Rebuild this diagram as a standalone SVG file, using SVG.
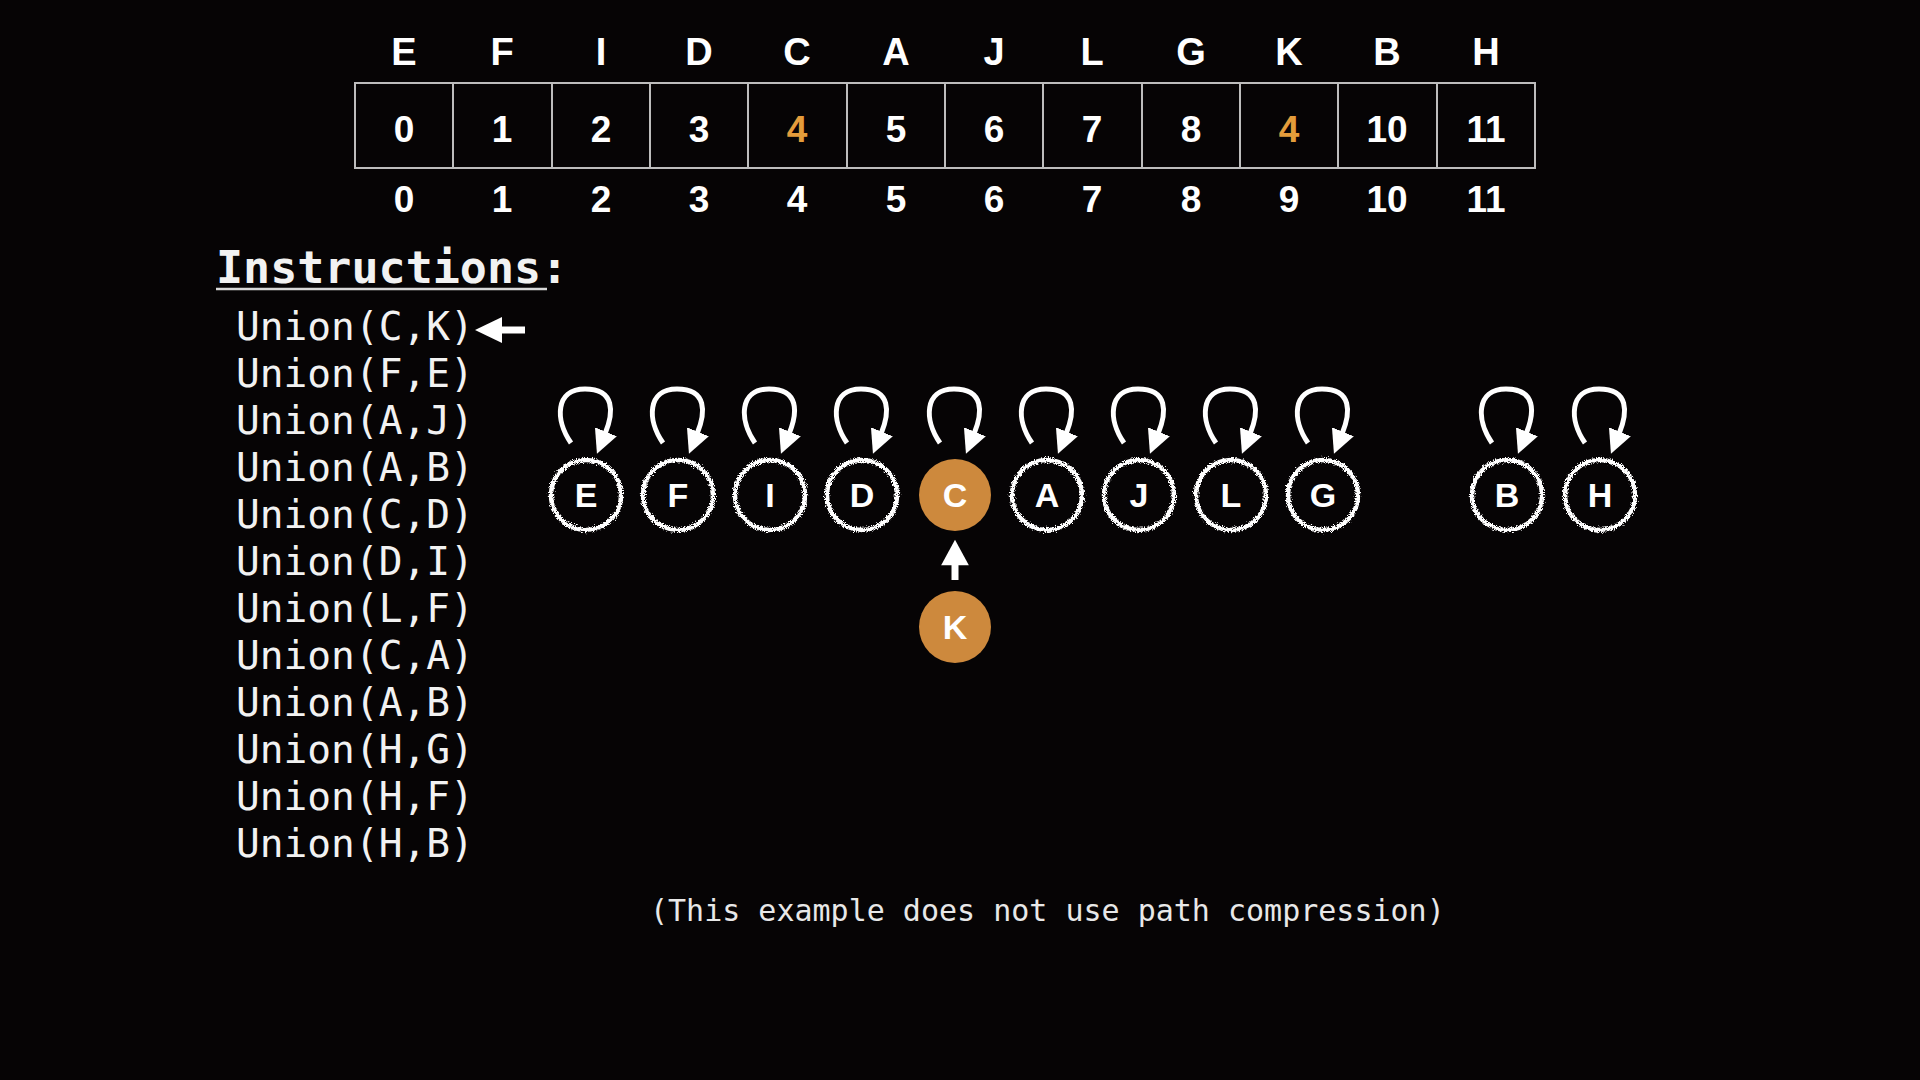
<svg xmlns="http://www.w3.org/2000/svg" width="1920" height="1080" viewBox="0 0 1920 1080">
<defs>
<style>
.hdr{font-family:"Liberation Sans",Arial,sans-serif;font-weight:bold;font-size:38px;fill:#fff;text-anchor:middle}
.val{font-family:"Liberation Sans",Arial,sans-serif;font-weight:bold;font-size:37px;fill:#fff;text-anchor:middle}
.hi{fill:#E49C3B}
.cell{fill:none;stroke:#bdbdbd;stroke-width:2}
.mono{font-family:"DejaVu Sans Mono","Liberation Mono",monospace;fill:#f2f2f2}
.title{font-size:45px;font-weight:bold}
.ins{font-size:39.5px}
.note{font-size:30px;fill:#e8e8e8}
.ring{fill:none;stroke:#fff;stroke-width:4.5;filter:url(#fuzz)}
.org{fill:#CD893D}
.lbl{font-family:"Liberation Sans",Arial,sans-serif;font-weight:bold;font-size:34px;fill:#fff;text-anchor:middle}
.loop{fill:none;stroke:#fff;stroke-width:5;marker-end:url(#ah)}
</style>
<filter id="fuzz" x="-30%" y="-30%" width="160%" height="160%">
<feTurbulence type="fractalNoise" baseFrequency="1.1" numOctaves="2" seed="3" result="n"/>
<feDisplacementMap in="SourceGraphic" in2="n" scale="6" xChannelSelector="R" yChannelSelector="G"/>
</filter>
<marker id="ah" markerUnits="userSpaceOnUse" markerWidth="26" markerHeight="26" viewBox="0 -11 22 22" refX="2" refY="0" orient="auto">
<path d="M0,-10 L20,0 L0,10 z" fill="#fff"/>
</marker>
<marker id="ah2" markerUnits="userSpaceOnUse" markerWidth="30" markerHeight="30" viewBox="0 -13 24 26" refX="1" refY="0" orient="auto">
<path d="M0,-12 L22,0 L0,12 z" fill="#fff"/>
</marker>
</defs>
<rect width="1920" height="1080" fill="#060405"/>

<g id="array">
<g id="headers">
<text class="hdr" x="404" y="65">E</text>
<text class="hdr" x="502" y="65">F</text>
<text class="hdr" x="601" y="65">I</text>
<text class="hdr" x="699" y="65">D</text>
<text class="hdr" x="797" y="65">C</text>
<text class="hdr" x="896" y="65">A</text>
<text class="hdr" x="994" y="65">J</text>
<text class="hdr" x="1092" y="65">L</text>
<text class="hdr" x="1191" y="65">G</text>
<text class="hdr" x="1289" y="65">K</text>
<text class="hdr" x="1387" y="65">B</text>
<text class="hdr" x="1486" y="65">H</text>
</g>
<g id="cells">
<rect class="cell" x="355" y="83" width="1180" height="85"/>
<line class="cell" x1="453" y1="83" x2="453" y2="168"/>
<line class="cell" x1="552" y1="83" x2="552" y2="168"/>
<line class="cell" x1="650" y1="83" x2="650" y2="168"/>
<line class="cell" x1="748" y1="83" x2="748" y2="168"/>
<line class="cell" x1="847" y1="83" x2="847" y2="168"/>
<line class="cell" x1="945" y1="83" x2="945" y2="168"/>
<line class="cell" x1="1043" y1="83" x2="1043" y2="168"/>
<line class="cell" x1="1142" y1="83" x2="1142" y2="168"/>
<line class="cell" x1="1240" y1="83" x2="1240" y2="168"/>
<line class="cell" x1="1338" y1="83" x2="1338" y2="168"/>
<line class="cell" x1="1437" y1="83" x2="1437" y2="168"/>
</g>
<g id="values">
<text class="val" x="404" y="142">0</text>
<text class="val" x="502" y="142">1</text>
<text class="val" x="601" y="142">2</text>
<text class="val" x="699" y="142">3</text>
<text class="val hi" x="797" y="142">4</text>
<text class="val" x="896" y="142">5</text>
<text class="val" x="994" y="142">6</text>
<text class="val" x="1092" y="142">7</text>
<text class="val" x="1191" y="142">8</text>
<text class="val hi" x="1289" y="142">4</text>
<text class="val" x="1387" y="142">10</text>
<text class="val" x="1486" y="142">11</text>
</g>
<g id="indices">
<text class="val" x="404" y="212">0</text>
<text class="val" x="502" y="212">1</text>
<text class="val" x="601" y="212">2</text>
<text class="val" x="699" y="212">3</text>
<text class="val" x="797" y="212">4</text>
<text class="val" x="896" y="212">5</text>
<text class="val" x="994" y="212">6</text>
<text class="val" x="1092" y="212">7</text>
<text class="val" x="1191" y="212">8</text>
<text class="val" x="1289" y="212">9</text>
<text class="val" x="1387" y="212">10</text>
<text class="val" x="1486" y="212">11</text>
</g>
</g>

<g id="instructions">
<text class="mono title" x="216" y="283">Instructions:</text>
<line x1="216" y1="289" x2="547" y2="289" stroke="#d8d8d8" stroke-width="2.5"/>
<text class="mono ins" x="236" y="340">Union(C,K)</text>
<text class="mono ins" x="236" y="387">Union(F,E)</text>
<text class="mono ins" x="236" y="434">Union(A,J)</text>
<text class="mono ins" x="236" y="481">Union(A,B)</text>
<text class="mono ins" x="236" y="528">Union(C,D)</text>
<text class="mono ins" x="236" y="575">Union(D,I)</text>
<text class="mono ins" x="236" y="622">Union(L,F)</text>
<text class="mono ins" x="236" y="669">Union(C,A)</text>
<text class="mono ins" x="236" y="716">Union(A,B)</text>
<text class="mono ins" x="236" y="763">Union(H,G)</text>
<text class="mono ins" x="236" y="810">Union(H,F)</text>
<text class="mono ins" x="236" y="857">Union(H,B)</text>
<g id="pointer">
<line x1="525" y1="330" x2="500" y2="330" stroke="#fff" stroke-width="7"/>
<polygon points="475,330 502,317 502,343" fill="#fff"/>
</g>
</g>

<g id="connectors">
<path class="loop" d="M571,443 C555,420 555,389 585,389 C615,389 614,412 605,434"/>
<path class="loop" d="M663,443 C647,420 647,389 677,389 C707,389 706,412 697,434"/>
<path class="loop" d="M755,443 C739,420 739,389 769,389 C799,389 798,412 789,434"/>
<path class="loop" d="M847,443 C831,420 831,389 861,389 C891,389 890,412 881,434"/>
<path class="loop" d="M940,443 C924,420 924,389 954,389 C984,389 983,412 974,434"/>
<path class="loop" d="M1032,443 C1016,420 1016,389 1046,389 C1076,389 1075,412 1066,434"/>
<path class="loop" d="M1124,443 C1108,420 1108,389 1138,389 C1168,389 1167,412 1158,434"/>
<path class="loop" d="M1216,443 C1200,420 1200,389 1230,389 C1260,389 1259,412 1250,434"/>
<path class="loop" d="M1308,443 C1292,420 1292,389 1322,389 C1352,389 1351,412 1342,434"/>
<path class="loop" d="M1492,443 C1476,420 1476,389 1506,389 C1536,389 1535,412 1526,434"/>
<path class="loop" d="M1585,443 C1569,420 1569,389 1599,389 C1629,389 1628,412 1619,434"/>
<line id="edge-K-C" x1="955" y1="580" x2="955" y2="564" stroke="#fff" stroke-width="7" marker-end="url(#ah2)"/>
</g>

<g id="node-E"><circle class="ring" cx="586" cy="495" r="35"/><text class="lbl" x="586" y="507">E</text></g>
<g id="node-F"><circle class="ring" cx="678" cy="495" r="35"/><text class="lbl" x="678" y="507">F</text></g>
<g id="node-I"><circle class="ring" cx="770" cy="495" r="35"/><text class="lbl" x="770" y="507">I</text></g>
<g id="node-D"><circle class="ring" cx="862" cy="495" r="35"/><text class="lbl" x="862" y="507">D</text></g>
<g id="node-C"><circle class="org" cx="955" cy="495" r="36"/><text class="lbl" x="955" y="507">C</text></g>
<g id="node-A"><circle class="ring" cx="1047" cy="495" r="35"/><text class="lbl" x="1047" y="507">A</text></g>
<g id="node-J"><circle class="ring" cx="1139" cy="495" r="35"/><text class="lbl" x="1139" y="507">J</text></g>
<g id="node-L"><circle class="ring" cx="1231" cy="495" r="35"/><text class="lbl" x="1231" y="507">L</text></g>
<g id="node-G"><circle class="ring" cx="1323" cy="495" r="35"/><text class="lbl" x="1323" y="507">G</text></g>
<g id="node-B"><circle class="ring" cx="1507" cy="495" r="35"/><text class="lbl" x="1507" y="507">B</text></g>
<g id="node-H"><circle class="ring" cx="1600" cy="495" r="35"/><text class="lbl" x="1600" y="507">H</text></g>
<g id="node-K"><circle class="org" cx="955" cy="627" r="36"/><text class="lbl" x="955" y="639">K</text></g>

<text class="mono note" x="650" y="921">(This example does not use path compression)</text>
</svg>
